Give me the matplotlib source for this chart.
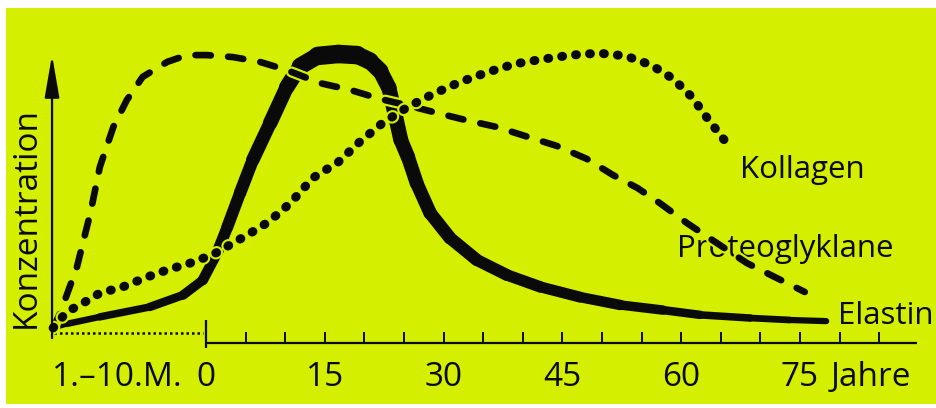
import matplotlib
matplotlib.use("Agg")
import matplotlib.pyplot as plt
from matplotlib.collections import LineCollection
from matplotlib.patches import Rectangle
import matplotlib.patheffects as pe
import numpy as np

# ---------------------------------------------------------
# DATA (x in years, prenatal months mapped to negative x; y = concentration, a.u.)
# ---------------------------------------------------------
elastin_x = [-19.3, -17.6, -13.4, -7.1, -2.9, -0.4, 1.4, 2.7, 4.3, 5.9, 8.1, 10.2, 11.9,
             14.1, 16.7, 19.1, 20.7, 22.0, 23.1, 23.9, 24.6, 25.5, 26.6, 28.3, 30.8, 34.2,
             38.0, 42.2, 47.2, 52.3, 57.7, 62.4, 68.7, 73.7, 78.3]
elastin_y = [1.8, 3.2, 5.7, 9.2, 13.4, 18.7, 28.3, 37.5, 49.5, 61.1, 74.2, 86.9, 94.3,
             97.9, 98.6, 98.2, 96.1, 92.6, 86.6, 77.0, 68.2, 62.2, 53.0, 42.4, 33.6, 25.8,
             20.5, 16.3, 12.7, 9.9, 8.1, 6.4, 5.3, 4.6, 4.2]

proteo_x = [-19.3, -18.4, -16.3, -14.6, -13.4, -11.7, -10.0, -8.0, -4.9, -2.4, 0.1, 3.4,
            6.8, 10.2, 14.4, 18.2, 22.0, 25.8, 28.7, 32.7, 36.7, 40.3, 44.3, 48.1, 51.4,
            54.5, 57.3, 60.7, 64.5, 68.3, 70.8, 75.6]
proteo_y = [1.8, 7.1, 23.3, 42.4, 58.7, 72.8, 82.3, 90.5, 95.8, 98.2, 98.2, 97.5,
            95.8, 92.9, 88.3, 85.9, 82.7, 80.2, 78.1, 75.3, 72.8, 69.6, 66.1, 61.5, 55.8,
            51.2, 45.9, 38.9, 31.8, 24.7, 21.2, 14.5]

kollagen_x = [-19.3, -17.6, -15.5, -13.4, -10.5, -7.4, -4.9, -2.0, 0.1, 1.5, 3.4, 5.2,
              7.7, 9.7, 11.0, 13.5, 16.7, 19.4, 22.3, 25.5, 28.7, 32.1, 35.6, 39.0, 42.6,
              46.1, 49.6, 53.0, 56.2, 59.0, 61.6, 62.6, 63.8, 64.9, 66.2]
kollagen_y = [1.8, 7.4, 10.6, 14.1, 16.3, 19.8, 22.3, 24.7, 26.9, 28.6, 31.8, 34.6,
              38.9, 43.5, 47.0, 54.8, 60.4, 67.5, 74.2, 79.9, 84.5, 88.7, 92.2, 95.1, 96.8,
              98.2, 98.9, 97.9, 94.7, 89.8, 82.7, 78.4, 74.2, 70.0, 65.7]

tick_years = list(range(5, 90, 5))
label_years = [0, 15, 30, 45, 60, 75]
label_texts = ["0", "15", "30", "45", "60", "75"]

# ---------------------------------------------------------
# STYLE
# ---------------------------------------------------------
BG = "#d4ef00"
INK = "#0a0a0a"
plt.rcParams["font.family"] = ["Open Sans", "DejaVu Sans"]

# elastin stroke width along the curve (px)
elastin_w = [5, 6, 7, 8, 9, 10, 11, 12, 12, 13, 14, 15, 16,
             18, 19, 18, 17, 16, 15, 15, 15, 14, 14, 13, 13, 12,
             12, 11, 11, 10, 9, 8, 7, 6.5, 6]

# ---------------------------------------------------------
# FIGURE
# ---------------------------------------------------------
fig = plt.figure(figsize=(9.37, 4.08), dpi=100)
fig.patch.set_facecolor("white")

ax = fig.add_axes([0, 0, 1, 1])
ax.set_xlim(-26.01, 92.30)
ax.set_ylim(-26.5, 117.67)
ax.axis("off")
ax.add_patch(Rectangle((6 / 937, 4 / 408), 1, 396 / 408, transform=ax.transAxes,
                       facecolor=BG, edgecolor="none", zorder=0))

# Elastin: thick solid band of varying width
pts = np.column_stack([elastin_x, elastin_y])
segs = np.stack([pts[:-1], pts[1:]], axis=1)
lw = [0.72 * (a + b) / 2 for a, b in zip(elastin_w[:-1], elastin_w[1:])]
lc = LineCollection(segs, linewidths=lw, colors=INK, capstyle="round",
                    joinstyle="round", zorder=3)
ax.add_collection(lc)

# Proteoglyklane: dashed
ax.plot(proteo_x, proteo_y, color=INK, lw=4.8, ls=(0, (2.3, 2.6)),
        dash_capstyle="round", zorder=4,
        path_effects=[pe.withStroke(linewidth=8, foreground=BG)])

# Kollagen: dotted
ax.plot(kollagen_x, kollagen_y, color=INK, lw=6.5, ls=(0, (0.1, 1.45)),
        dash_capstyle="round", zorder=5,
        path_effects=[pe.withStroke(linewidth=9.5, foreground=BG)])

# axes
y_axis_x = -19.44
ax.annotate("", xy=(y_axis_x, 98.2), xytext=(y_axis_x, -1.8),
            arrowprops=dict(arrowstyle="-|>,head_length=2.6,head_width=0.45",
                            lw=1.6, color=INK, shrinkA=0, shrinkB=0), zorder=6)
ax.plot([y_axis_x + 0.3, -0.4], [0, 0], color=INK, lw=1.8, ls=(0, (1.0, 1.2)), zorder=2)

x_axis_y = -3.53
ax.plot([0, 89.8], [x_axis_y, x_axis_y], color=INK, lw=1.6, solid_capstyle="butt", zorder=2)
ax.vlines(tick_years, x_axis_y, 0.35, color=INK, lw=1.4, zorder=2)
ax.vlines([0], -5.3, 4.6, color=INK, lw=1.6, zorder=2)

# labels
tick_fs = 24
for yr, t in zip(label_years, label_texts):
    ax.text(yr, -18.7, t, ha="center", va="baseline", fontsize=tick_fs, color=INK)
ax.text(-19.4, -18.7, "1.\u201310.M.", ha="left", va="baseline", fontsize=tick_fs, color=INK)
ax.text(78.9, -18.7, "Jahre", ha="left", va="baseline", fontsize=tick_fs, color=INK)

lab_fs = 22.5
ax.text(-21.6, 1.8, "Konzentration", rotation=90, rotation_mode="anchor",
        ha="left", va="baseline", fontsize=24, color=INK)
ax.text(67.4, 54.8, "Kollagen", ha="left", va="baseline", fontsize=lab_fs, color=INK)
ax.text(59.5, 26.9, "Proteoglyklane", ha="left", va="baseline", fontsize=lab_fs, color=INK)
ax.text(79.8, 3.2, "Elastin", ha="left", va="baseline", fontsize=lab_fs, color=INK)

fig.savefig("out.png", dpi=100, facecolor=fig.get_facecolor())
